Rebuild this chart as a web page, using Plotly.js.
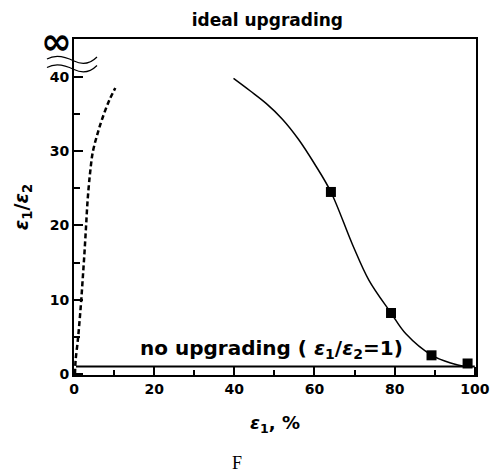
<!DOCTYPE html>
<html>
<head>
<meta charset="utf-8">
<script src="https://cdn.plot.ly/plotly-3.0.1.min.js"></script>
<style>html,body{margin:0;padding:0;background:#fff;}#chart{width:493px;height:473px;}</style>
</head>
<body>
<div id="chart"></div>
<script>
// fitted (solid) curve
const fitX = [39.8, 44, 48, 52, 56, 60, 64.1, 69.5, 73.6, 79.1, 82.8, 89.3, 94.4, 97.5];
const fitY = [39.8, 38.1, 36.4, 34.3, 31.6, 28.3, 24.5, 17.4, 12.6, 8.2, 5.4, 2.5, 1.4, 1.0];
// measured points (squares)
const pointsX = [64.1, 79.1, 89.2, 98.2];
const pointsY = [24.5, 8.2, 2.5, 1.4];
// ideal upgrading (dashed) curve
const idealX = [0.25, 0.4, 0.95, 1.4, 1.8, 2.2, 2.6, 3.0, 3.4, 4.0, 4.7, 5.9, 7.2, 8.85, 10.3];
const idealY = [0, 1.8, 4.5, 7.2, 9.9, 13.0, 16.2, 19.8, 23.4, 27.0, 29.9, 32.4, 34.6, 36.9, 38.5];
// no upgrading line
const noUpX = [0.5, 100];
const noUpY = [1, 1];
// ticks
const xTicks = [0, 20, 40, 60, 80, 100];
const xMinor = [10, 30, 50, 70, 90];
const yTicks = [0, 10, 20, 30, 40];
const yMinor = [5, 15, 25, 35];

const W = 493, H = 473, ML = 74, MR = 17, MT = 39, MB = 98;
const PW = W - ML - MR, PH = H - MT - MB;
function px(x) { return ((x - ML) / PW).toFixed(4); }
function py(y) { return ((H - MB - y) / PH).toFixed(4); }
function wave(dy) {
  return 'M ' + px(47) + ',' + py(59 + dy) +
    ' C ' + px(56) + ',' + py(54 + dy) + ' ' + px(66) + ',' + py(57 + dy) + ' ' + px(74) + ',' + py(61 + dy) +
    ' C ' + px(80) + ',' + py(64 + dy) + ' ' + px(88) + ',' + py(66 + dy) + ' ' + px(97) + ',' + py(57 + dy);
}

const FONT = 'DejaVu Sans';
const traces = [
  {x: noUpX, y: noUpY, mode: 'lines', line: {color: '#000', width: 2}, hoverinfo: 'skip'},
  {x: idealX, y: idealY, mode: 'lines', line: {color: '#000', width: 2.5, dash: '5px,3px', shape: 'spline'}, hoverinfo: 'skip'},
  {x: fitX, y: fitY, mode: 'lines', line: {color: '#000', width: 1.5, shape: 'spline'}, hoverinfo: 'skip'},
  {x: pointsX, y: pointsY, mode: 'markers', marker: {symbol: 'square', size: 10, color: '#000'}, cliponaxis: false}
];

const layout = {
  width: W, height: H,
  margin: {l: ML, r: MR, t: MT, b: MB},
  paper_bgcolor: '#fff', plot_bgcolor: '#fff',
  showlegend: false,
  title: {text: 'ideal upgrading', font: {family: FONT, size: 17, weight: 'bold', color: '#000'},
          x: 0.481, xref: 'paper', xanchor: 'center', y: 1 - 20 / H, yref: 'container', yanchor: 'middle'},
  xaxis: {
    range: [0, 100.3], showgrid: false, zeroline: false,
    showline: true, linecolor: '#000', linewidth: 2, mirror: true,
    ticks: 'inside', ticklen: 8, tickwidth: 2, tickcolor: '#000',
    tickvals: xTicks, ticktext: xTicks.map(String),
    tickfont: {family: FONT, size: 14, weight: 'bold', color: '#000'},
    minor: {tickvals: xMinor, ticks: 'inside', ticklen: 5, tickwidth: 2, tickcolor: '#000'},
    title: {text: '<i>ε</i><sub>1</sub>, %', font: {family: FONT, size: 18, weight: 'bold', color: '#000'}, standoff: 21}
  },
  yaxis: {
    range: [-0.15, 45.1], showgrid: false, zeroline: false,
    showline: true, linecolor: '#000', linewidth: 2, mirror: true,
    ticks: 'inside', ticklen: 9, tickwidth: 2, tickcolor: '#000',
    tickvals: yTicks, ticktext: yTicks.map(String),
    tickfont: {family: FONT, size: 14, weight: 'bold', color: '#000'},
    minor: {tickvals: yMinor, ticks: 'inside', ticklen: 6, tickwidth: 2, tickcolor: '#000'},
    title: {text: '<i>ε</i><sub>1</sub>/<i>ε</i><sub>2</sub>', font: {family: FONT, size: 19, weight: 'bold', color: '#000'}, standoff: 16}
  },
  annotations: [
    {text: 'no upgrading ( <i>ε</i><sub>1</sub>/<i>ε</i><sub>2</sub>=1)', x: 49.3, y: 3.4, xref: 'x', yref: 'y',
     xanchor: 'center', yanchor: 'middle', showarrow: false,
     font: {family: FONT, size: 20, weight: 'bold', color: '#000'}},
    {text: '∞', x: px(57), y: py(42), xref: 'paper', yref: 'paper', xanchor: 'center', yanchor: 'middle',
     showarrow: false, font: {family: FONT, size: 37, weight: 'bold', color: '#000'}},
    {text: 'F', x: px(237), y: py(463), xref: 'paper', yref: 'paper', xanchor: 'center', yanchor: 'middle',
     showarrow: false, font: {family: 'Liberation Serif', size: 18, color: '#000'}}
  ],
  shapes: [
    {type: 'path', xref: 'paper', yref: 'paper', path: wave(0), line: {color: '#000', width: 1.2}},
    {type: 'path', xref: 'paper', yref: 'paper', path: wave(8.5), line: {color: '#000', width: 1.2}}
  ]
};

Plotly.newPlot('chart', traces, layout, {staticPlot: true, displayModeBar: false});
</script>
</body>
</html>
